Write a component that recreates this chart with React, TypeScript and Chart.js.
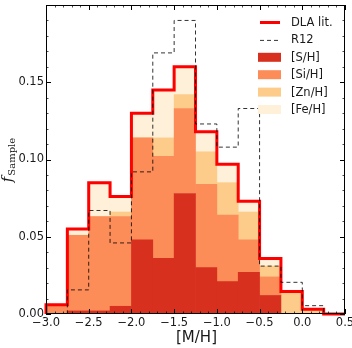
import { useEffect, useRef } from 'react';
import { Chart, registerables } from 'chart.js';

Chart.register(...registerables);

// [M/H] histogram bins (width 0.25 dex)
const binCenters = [-2.875, -2.625, -2.375, -2.125, -1.875, -1.625, -1.375, -1.125, -0.875, -0.625, -0.375, -0.125, 0.125, 0.375];
const binEdges = [-3.0, -2.75, -2.5, -2.25, -2.0, -1.75, -1.5, -1.25, -1.0, -0.75, -0.5, -0.25, 0.0, 0.25, 0.5];

// Stacked contributions per element (fraction of sample)
const sH = [0, 0.002, 0.002, 0.005, 0.048, 0.036, 0.078, 0.030, 0.021, 0.027, 0.012, 0, 0, 0];
const siH = [0.006, 0.049, 0.061, 0.058, 0.066, 0.066, 0.055, 0.054, 0.043, 0.021, 0.012, 0, 0, 0];
const znH = [0, 0, 0, 0.003, 0, 0.012, 0.009, 0.021, 0.021, 0.018, 0.007, 0.0145, 0.003, 0];
const feH = [0, 0.004, 0.022, 0.010, 0.016, 0.031, 0.018, 0.013, 0.012, 0.007, 0.005, 0, 0, 0];

// Outline histograms
const dlaLit = [0.006, 0.055, 0.085, 0.076, 0.130, 0.145, 0.160, 0.118, 0.097, 0.073, 0.036, 0.0145, 0.003, 0];
const r12 = [0, 0.0156, 0.067, 0.046, 0.092, 0.169, 0.190, 0.123, 0.108, 0.133, 0.031, 0.0205, 0.0054, 0];

// Axis ticks
const xTicks = [-3.0, -2.5, -2.0, -1.5, -1.0, -0.5, 0.0, 0.5];
const xTickLabels = ['\u22123.0', '\u22122.5', '\u22122.0', '\u22121.5', '\u22121.0', '\u22120.5', '0.0', '0.5'];
const yTicks = [0.0, 0.05, 0.10, 0.15];
const yTickLabels = ['0.00', '0.05', '0.10', '0.15'];

const COLORS = {
  s: '#d7301f',
  si: '#fc8d59',
  zn: '#fdcc8a',
  fe: '#fef0d9',
  dla: '#ff0000',
  r12: 'rgba(0,0,0,0.8)',
};

const FONT = '"DejaVu Sans", sans-serif';
const TEXT = '#1a1a1a';

// Outline of a histogram as stepped points along the bin edges
function stepPoints(values: number[]) {
  const pts = [{ x: binEdges[0], y: 0 }];
  values.forEach((v, i) => pts.push({ x: binEdges[i], y: v }));
  pts.push({ x: binEdges[binEdges.length - 1], y: values[values.length - 1] });
  return pts;
}

const frameAndLabels = {
  id: 'frameAndLabels',
  afterDatasetsDraw(chart: any) {
    const { ctx, chartArea: a, scales } = chart;
    const x = scales.x;
    const y = scales.y;
    ctx.save();
    ctx.strokeStyle = '#000';

    // minor ticks (inward, all sides)
    ctx.lineWidth = 0.7;
    ctx.beginPath();
    for (let v = -3.0; v <= 0.5001; v += 0.1) {
      const px = Math.round(x.getPixelForValue(v)) + 0.5;
      ctx.moveTo(px, a.bottom); ctx.lineTo(px, a.bottom - 2.5);
      ctx.moveTo(px, a.top); ctx.lineTo(px, a.top + 2.5);
    }
    for (let v = 0; v <= 0.2001; v += 0.01) {
      const py = Math.round(y.getPixelForValue(v)) + 0.5;
      ctx.moveTo(a.left, py); ctx.lineTo(a.left + 2.5, py);
      ctx.moveTo(a.right, py); ctx.lineTo(a.right - 2.5, py);
    }
    ctx.stroke();

    // major ticks
    ctx.lineWidth = 1;
    ctx.beginPath();
    xTicks.forEach((v) => {
      const px = Math.round(x.getPixelForValue(v)) + 0.5;
      ctx.moveTo(px, a.bottom); ctx.lineTo(px, a.bottom - 5);
      ctx.moveTo(px, a.top); ctx.lineTo(px, a.top + 5);
    });
    [...yTicks, 0.2].forEach((v) => {
      const py = Math.round(y.getPixelForValue(v)) + 0.5;
      ctx.moveTo(a.left, py); ctx.lineTo(a.left + 5, py);
      ctx.moveTo(a.right, py); ctx.lineTo(a.right - 5, py);
    });
    ctx.stroke();

    // frame
    ctx.lineWidth = 1;
    ctx.strokeRect(Math.round(a.left) + 0.5, Math.round(a.top) + 0.5, Math.round(a.right - a.left) - 1, Math.round(a.bottom - a.top) - 1);

    // tick labels
    ctx.fillStyle = TEXT;
    ctx.font = `11.5px ${FONT}`;
    ctx.textAlign = 'center';
    ctx.textBaseline = 'middle';
    xTicks.forEach((v, i) => {
      ctx.fillText(xTickLabels[i], x.getPixelForValue(v), a.bottom + 9);
    });
    ctx.textAlign = 'right';
    yTicks.forEach((v, i) => {
      ctx.fillText(yTickLabels[i], a.left - 2, y.getPixelForValue(v));
    });

    // x title
    ctx.font = `15px ${FONT}`;
    ctx.textAlign = 'center';
    ctx.fillText('[M/H]', (a.left + a.right) / 2 + 1, 338);

    // y title: f_Sample
    ctx.save();
    ctx.translate(12, 160);
    ctx.rotate(-Math.PI / 2);
    ctx.textAlign = 'left';
    ctx.textBaseline = 'alphabetic';
    ctx.font = 'italic 15px "DejaVu Serif", serif';
    const fW = ctx.measureText('f').width;
    ctx.font = '10px "DejaVu Serif", serif';
    const sW = ctx.measureText('Sample').width;
    const start = -(fW + sW + 1) / 2;
    ctx.font = 'italic 15px "DejaVu Serif", serif';
    ctx.fillText('f', start, 0);
    ctx.font = '10px "DejaVu Serif", serif';
    ctx.fillText('Sample', start + fW + 1, 3);
    ctx.restore();

    // legend
    const rows = [22.5, 39.9, 57.3, 74.7, 92.1, 109.5];
    const hx0 = 258;
    const hx1 = 281;
    ctx.lineCap = 'butt';
    ctx.strokeStyle = COLORS.dla;
    ctx.lineWidth = 3;
    ctx.beginPath();
    ctx.moveTo(hx0 + 2, rows[0]); ctx.lineTo(hx1 - 1, rows[0]);
    ctx.stroke();
    ctx.strokeStyle = COLORS.r12;
    ctx.lineWidth = 1;
    ctx.setLineDash([4, 3]);
    ctx.beginPath();
    ctx.moveTo(hx0 + 2, rows[1] + 0.5); ctx.lineTo(hx1 - 1, rows[1] + 0.5);
    ctx.stroke();
    ctx.setLineDash([]);
    const patches = [COLORS.s, COLORS.si, COLORS.zn, COLORS.fe];
    patches.forEach((c, i) => {
      ctx.fillStyle = c;
      ctx.fillRect(hx0, rows[i + 2] - 4.5, hx1 - hx0, 9);
    });
    const labels = ['DLA lit.', 'R12', '[S/H]', '[Si/H]', '[Zn/H]', '[Fe/H]'];
    ctx.fillStyle = TEXT;
    ctx.font = `11.5px ${FONT}`;
    ctx.textAlign = 'left';
    ctx.textBaseline = 'middle';
    labels.forEach((t, i) => ctx.fillText(t, 291, rows[i] + 0.5));

    ctx.restore();
  },
};

export default function App() {
  const canvasRef = useRef<HTMLCanvasElement | null>(null);

  useEffect(() => {
    if (!canvasRef.current) return;
    const barDs = (label: string, values: number[], color: string) => ({
      type: 'bar' as const,
      label,
      data: values.map((v, i) => ({ x: binCenters[i], y: v })),
      backgroundColor: color,
      borderWidth: 0,
      barPercentage: 1,
      categoryPercentage: 1,
      stack: 'elements',
      order: 10,
    });
    const chart = new Chart(canvasRef.current, {
      type: 'bar',
      data: {
        datasets: [
          barDs('[S/H]', sH, COLORS.s),
          barDs('[Si/H]', siH, COLORS.si),
          barDs('[Zn/H]', znH, COLORS.zn),
          barDs('[Fe/H]', feH, COLORS.fe),
          {
            type: 'line' as const,
            label: 'DLA lit.',
            data: stepPoints(dlaLit),
            borderColor: COLORS.dla,
            borderWidth: 3,
            stepped: 'before',
            pointRadius: 0,
            fill: false,
            order: 1,
            clip: 4,
          } as any,
          {
            type: 'line' as const,
            label: 'R12',
            data: stepPoints(r12),
            borderColor: COLORS.r12,
            borderWidth: 1,
            borderDash: [4, 3],
            stepped: 'before',
            pointRadius: 0,
            fill: false,
            order: 0,
          } as any,
        ],
      },
      options: {
        animation: false,
        responsive: false,
        devicePixelRatio: 1,
        layout: { padding: { left: 46, right: 7, top: 5, bottom: 34 } },
        plugins: { legend: { display: false }, tooltip: { enabled: false } },
        scales: {
          x: { type: 'linear', min: -3, max: 0.5, offset: false, display: false },
          y: { type: 'linear', min: 0, max: 0.2, display: false },
        },
      },
      plugins: [frameAndLabels],
    });
    return () => chart.destroy();
  }, []);

  return (
    <div style={{ position: 'absolute', left: 0, top: 0, width: 352, height: 348, background: '#fff' }}>
      <canvas ref={canvasRef} width={352} height={348} style={{ width: 352, height: 348, display: 'block' }} />
    </div>
  );
}
